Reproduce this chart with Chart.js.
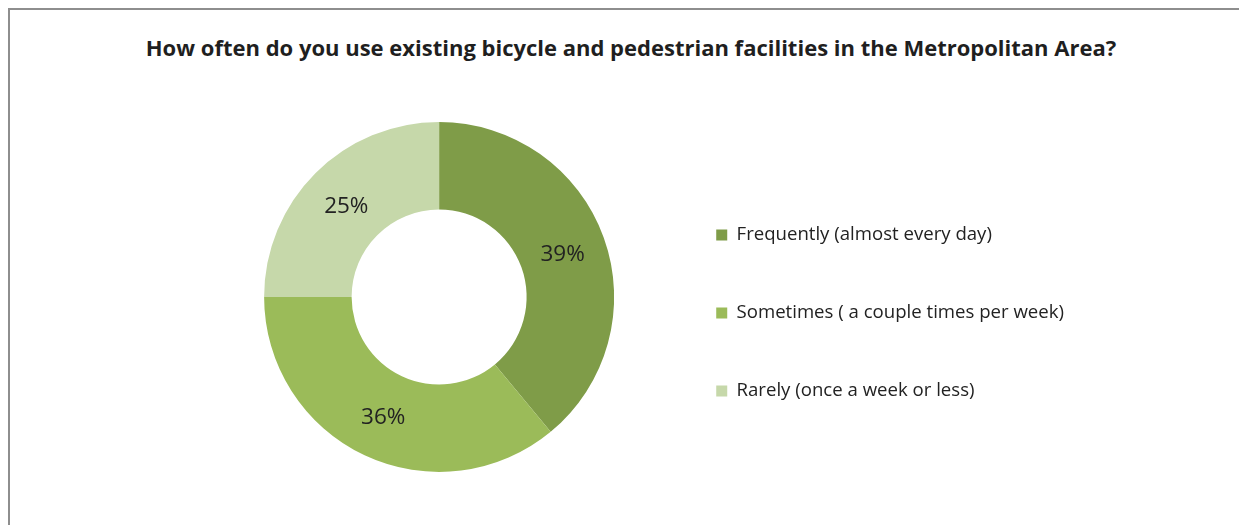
<!DOCTYPE html>
<html>
<head>
<meta charset="utf-8">
<title>Bicycle and pedestrian facilities</title>
<script src="https://cdn.jsdelivr.net/npm/chart.js@4/dist/chart.umd.min.js"></script>
<style>
    html, body { margin: 0; padding: 0; background: #fff; }
    #okvir {
        position: absolute; left: 8px; top: 8px; width: 1240px; height: 520px;
        border-top: 2px solid #8e8e8e; border-left: 2px solid #8e8e8e;
    }
    #naslov {
        position: absolute; left: 0; top: 33px; width: 1262px;
        text-align: center; white-space: nowrap;
        font: bold 22px "Open Sans"; line-height: 28px; color: #1f1f1f;
    }
    #graf { position: absolute; left: 0; top: 0; }
</style>
</head>
<body>
<div id="okvir"></div>
<div id="naslov"></div>
<canvas id="graf" width="1239" height="525"></canvas>
<script>
const chartTitle = "How often do you use existing bicycle and pedestrian facilities in the Metropolitan Area?";
const categories = ["Frequently (almost every day)", "Sometimes ( a couple times per week)", "Rarely (once a week or less)"];
const percentages = [39, 36, 25];
const sliceColors = ["#7f9c48", "#9bbb59", "#c6d8aa"];

document.getElementById("naslov").textContent = chartTitle;

// percentage text in the middle of each ring segment
const sliceLabels = {
    id: "sliceLabels",
    afterDatasetsDraw(chart) {
        const ctx = chart.ctx;
        const meta = chart.getDatasetMeta(0);
        ctx.save();
        ctx.font = "22.5px 'Open Sans'";
        ctx.fillStyle = "#222";
        ctx.textAlign = "center";
        ctx.textBaseline = "middle";
        meta.data.forEach((arc, i) => {
            const pos = arc.tooltipPosition();
            // Open Sans sits a bit high on "middle", push it down a little
            ctx.fillText(`${chart.data.datasets[0].data[i]}%`, pos.x, pos.y + 2);
        });
        ctx.restore();
    }
};

new Chart(document.getElementById("graf").getContext("2d"), {
    type: "doughnut",
    data: {
        labels: categories,
        datasets: [{
            data: percentages,
            backgroundColor: sliceColors,
            borderWidth: 0,
            hoverOffset: 0
        }]
    },
    options: {
        responsive: false,
        animation: false,
        cutout: "50%",
        layout: { padding: { left: 221.4, right: 165, top: 122, bottom: 53 } },
        plugins: {
            legend: {
                position: "right",
                align: "center",
                fullSize: false,
                // empty title only pushes the items a bit lower
                title: { display: true, text: "", font: { size: 12 }, padding: { top: 0, bottom: 17.6 } },
                labels: {
                    boxWidth: 11,
                    boxHeight: 11,
                    padding: 59.4,
                    color: "#222",
                    font: { family: "'Open Sans'", size: 18.6 }
                }
            },
            tooltip: { enabled: false }
        }
    },
    plugins: [sliceLabels]
});
</script>
</body>
</html>
